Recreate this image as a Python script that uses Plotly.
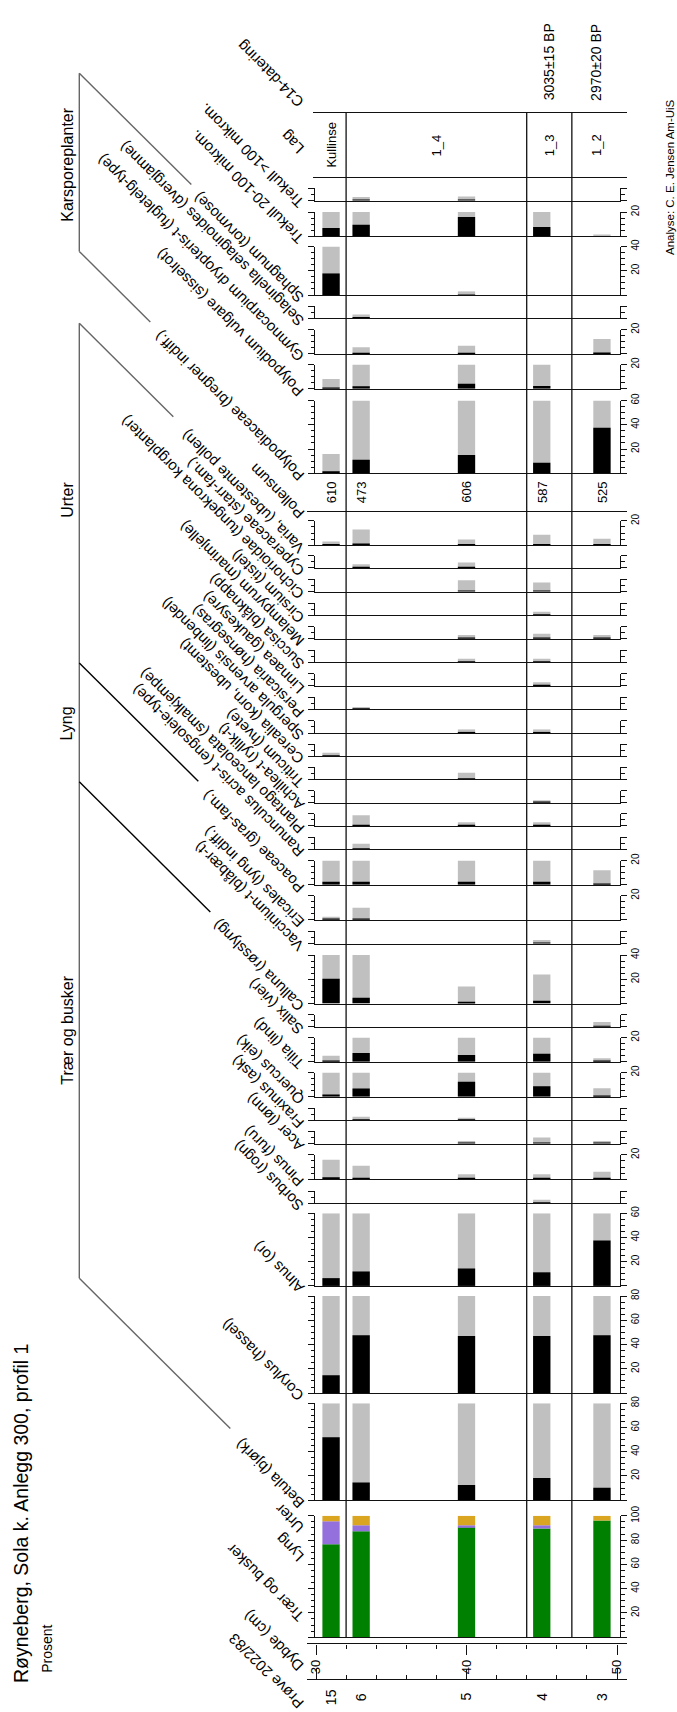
import plotly.graph_objects as go

# ---------------- data ----------------
SAMPLES = ["15", "6", "5", "4", "3"]
DEPTH_CM = [31, 33, 40, 45, 49]
POLLENSUM = [610, 473, 606, 587, 525]

LAYERS = ["Kullinse", "1_4", "1_3", "1_2"]
LAYER_BOUNDS = [32, 44, 47]
C14_DATES = ["", "", "3035±15 BP", "2970±20 BP"]

DEPTH_TICKS = [30, 40, 50]
DEPTH_MINOR = [32, 34, 36, 38, 42, 44, 46, 48]

# summary diagram (%)
TREES_SHRUBS = [76.5, 87.4, 90.7, 89.6, 96.2]
HEATH = [19.1, 4.9, 1.6, 2.7, 0.0]
HERBS = [4.4, 7.7, 7.7, 7.7, 3.8]

# pollen / spore / charcoal percentages per sample (15, 6, 5, 4, 3)
betula = [52.0, 14.6, 12.6, 18.4, 10.4]
corylus = [14.7, 47.7, 47.1, 47.1, 47.7]
alnus = [6.4, 11.9, 14.4, 11.2, 37.5]
sorbus = [0, 0, 0, 0.3, 0]
pinus = [1.6, 1.1, 0.4, 0.4, 0.6]
acer = [0, 0, 0.2, 0.5, 0.2]
fraxinus = [0, 0.3, 0.2, 0, 0]
quercus = [2.0, 6.9, 12.5, 8.8, 0.7]
tilia = [0.5, 7.2, 5.6, 6.6, 0.3]
salix = [0, 0, 0, 0, 0.4]
calluna = [20.4, 4.7, 1.4, 2.4, 0]
vaccinium = [0, 0, 0, 0.3, 0]
ericales = [0.25, 1.0, 0, 0, 0]
poaceae = [2.5, 2.5, 2.5, 2.5, 1.2]
ranunculus = [0, 0.47, 0, 0, 0]
plantago = [0, 0.88, 0.3, 0.3, 0]
achillea = [0, 0, 0, 0.2, 0]
triticum = [0, 0, 0.56, 0, 0]
cerealia = [0.3, 0, 0, 0, 0]
spergula = [0, 0, 0.3, 0.3, 0]
persicaria = [0, 0.2, 0, 0, 0]
linnaea = [0, 0, 0, 0.3, 0]
succisa = [0, 0, 0.3, 0.3, 0]
melampyrum = [0, 0, 0.3, 0.4, 0.3]
cirsium = [0, 0, 0, 0.3, 0]
cichorioidae = [0, 0, 0.94, 0.75, 0]
cyperaceae = [0, 0.3, 0.44, 0, 0]
varia = [0.3, 1.3, 0.47, 0.85, 0.53]
polypodiaceae = [1.6, 11.2, 15.1, 8.7, 37.5]
polypodium = [0.8, 2.0, 4.1, 2.2, 0]
gymnocarpium = [0, 0.55, 0.68, 0, 1.23]
selaginella = [0, 0.3, 0, 0, 0]
sphagnum = [17.8, 0, 0.3, 0, 0]
trekull_20_100 = [6.8, 9.6, 16.0, 7.7, 0.15]
trekull_100 = [0, 0.3, 0.33, 0, 0]

EXAGGERATION = 10

POLLEN_TAXA = [
    ("Betula (bjørk)", betula),
    ("Corylus (hassel)", corylus),
    ("Alnus (or)", alnus),
    ("Sorbus (rogn)", sorbus),
    ("Pinus (furu)", pinus),
    ("Acer (lønn)", acer),
    ("Fraxinus (ask)", fraxinus),
    ("Quercus (eik)", quercus),
    ("Tilia (lind)", tilia),
    ("Salix (vier)", salix),
    ("Calluna (røsslyng)", calluna),
    ("Vaccinium-t (blåbær-t)", vaccinium),
    ("Ericales (lyng indiff.)", ericales),
    ("Poaceae (gras-fam.)", poaceae),
    ("Ranunculus acris-t (engsoleie-type)", ranunculus),
    ("Plantago lanceolata (smalkjempe)", plantago),
    ("Achillea-t (ryllik-t)", achillea),
    ("Triticum (hvete)", triticum),
    ("Cerealia (korn, ubestemt)", cerealia),
    ("Spergula arvensis (linbendel)", spergula),
    ("Persicaria (hønsegras)", persicaria),
    ("Linnaea (gaukesyre)", linnaea),
    ("Succisa (blåknapp)", succisa),
    ("Melampyrum (marimjelle)", melampyrum),
    ("Cirsium (tistel)", cirsium),
    ("Cichorioidae (tungekrona korgplanter)", cichorioidae),
    ("Cyperaceae (starr-fam.)", cyperaceae),
    ("Varia, (ubestemte pollen)", varia),
]
SPORE_TAXA = [
    ("Polypodiaceae (bregner indiff.)", polypodiaceae),
    ("Polypodium vulgare (sisselrot)", polypodium),
    ("Gymnocarpium dryopteris-t (fugletelg-type)", gymnocarpium),
    ("Selaginella selaginoides (dvergjamne)", selaginella),
    ("Sphagnum (torvmose)", sphagnum),
    ("Trekull 20-100 mikrom.", trekull_20_100),
    ("Trekull >100 mikrom.", trekull_100),
]

# ---------------- layout geometry ----------------
W, H = 677, 1712
FONT = "Liberation Sans, Arial, Helvetica, sans-serif"
INK = "#111111"
GREY = "#c0c0c0"
GREEN, PURPLE, GOLD = "#008000", "#9370db", "#daa520"

PX_PER_PCT = 1.22          # vertical pixels per percent
X30, PX_PER_CM = 316.0, 15.05
PANEL_L, PANEL_R = 315.0, 620.0
FRAME_L, FRAME_R = 306.7, 626.7
BAR_W = 1.15               # bar width in cm
LABEL_X = 310.0

SUMMARY_BASE = 1636.7
POLLEN_GEOM = [  # (baseline px, axis max %)
    (1499.0, 80), (1391.2, 80), (1283.4, 60), (1200.3, 10), (1176.0, 20),
    (1140.2, 10), (1116.8, 10), (1093.2, 20), (1058.0, 20), (1022.8, 10),
    (999.4, 40), (939.0, 10), (915.2, 20), (880.0, 20), (844.4, 10),
    (820.7, 10), (797.4, 10), (774.0, 10), (750.7, 10), (727.3, 10),
    (703.6, 10), (679.9, 10), (656.1, 10), (632.4, 10), (609.0, 10),
    (585.0, 10), (561.2, 10), (538.3, 20),
]
POLLENSUM_BASE = 503.8
SPORE_GEOM = [
    (466.0, 60), (381.0, 20), (346.0, 20), (310.0, 10), (286.7, 40),
    (227.7, 20), (191.7, 10),
]
LAG_TOP, LAG_BOT = 103.3, 168.3


def depth_at(px):
    return 30 + (px - X30) / PX_PER_CM


def fx(px):
    return px / W


def fy(px):
    return 1 - px / H


lay = dict(
    width=W, height=H, autosize=False,
    margin=dict(l=0, r=0, t=0, b=0, pad=0),
    paper_bgcolor="white", plot_bgcolor="rgba(0,0,0,0)",
    barmode="overlay", showlegend=False,
    font=dict(family=FONT, color="#000"),
)
annotations = []
shapes = []
fig = go.Figure()
_count = [0]


def add_axes(x_lo, x_hi, y_bot, y_top, xopts, yopts):
    _count[0] += 1
    s = "" if _count[0] == 1 else str(_count[0])
    xa = dict(domain=[fx(x_lo), fx(x_hi)], range=[depth_at(x_lo), depth_at(x_hi)],
              anchor="y" + s, showgrid=False, zeroline=False, fixedrange=True)
    xa.update(xopts)
    ya = dict(domain=[fy(y_bot), fy(y_top)], anchor="x" + s,
              showgrid=False, zeroline=False, fixedrange=True)
    ya.update(yopts)
    lay["xaxis" + s] = xa
    lay["yaxis" + s] = ya
    return "x" + s, "y" + s


def hold_axes(xa, ya):
    # invisible placeholder so the helper subplot is always built
    fig.add_trace(go.Scatter(x=DEPTH_CM, y=[0.5] * len(DEPTH_CM), mode="markers",
                             marker=dict(opacity=0), xaxis=xa, yaxis=ya,
                             hoverinfo="skip", showlegend=False))


def percent_panel(base, amax):
    major = list(range(0, amax + 1, 20)) if amax >= 20 else [0, amax]
    minor = [v for v in range(5, amax + 1, 5) if v not in major]
    labels = ["" if (v == 0 or amax < 20) else str(v) for v in major]
    xopts = dict(showline=True, linecolor=INK, linewidth=1.2, ticks="",
                 showticklabels=False)
    yopts = dict(range=[0, amax], side="right", showline=True, linecolor=INK,
                 linewidth=1, mirror="ticks", ticks="outside", ticklen=6,
                 tickwidth=1, tickcolor=INK, tickmode="array", tickvals=major,
                 ticktext=labels,
                 tickangle=-90, tickfont=dict(size=10, family=FONT, color="#000"),
                 minor=dict(tickmode="array", tickvals=minor, ticks="outside",
                            ticklen=3.5, tickwidth=1, tickcolor=INK))
    return add_axes(PANEL_L, PANEL_R, base, base - amax * PX_PER_PCT, xopts, yopts)


def slanted_label(text, y_px, size=15):
    annotations.append(dict(
        x=fx(LABEL_X), y=fy(y_px + 14), xref="paper", yref="paper",
        text=text, showarrow=False, textangle=-135,
        xanchor="right", yanchor="bottom",
        font=dict(family=FONT, size=size, color="#000")))


def upright_text(text, x, y_px, size, xref="paper", yanchor="middle"):
    annotations.append(dict(
        x=x, y=fy(y_px), xref=xref, yref="paper", text=text,
        showarrow=False, textangle=-90, xanchor="center", yanchor=yanchor,
        font=dict(family=FONT, size=size, color="#000")))


def bar(xa, ya, values, color, base=None):
    fig.add_trace(go.Bar(
        x=DEPTH_CM, y=values, base=base, width=BAR_W,
        marker=dict(color=color, line=dict(width=0)),
        xaxis=xa, yaxis=ya, hoverinfo="skip", showlegend=False))


def taxon_panel(label, values, base, amax):
    xa, ya = percent_panel(base, amax)
    exaggerated = [min(v * EXAGGERATION, amax) if v > 0 else None for v in values]
    bar(xa, ya, exaggerated, GREY)
    bar(xa, ya, [v if v > 0 else None for v in values], "#000000")
    slanted_label(label, base)


# summary diagram
xs, ys = percent_panel(SUMMARY_BASE, 100)
bar(xs, ys, TREES_SHRUBS, GREEN)
bar(xs, ys, [v if v > 0 else None for v in HEATH], PURPLE, base=TREES_SHRUBS)
bar(xs, ys, HERBS, GOLD, base=[a + b for a, b in zip(TREES_SHRUBS, HEATH)])
slanted_label("Trær og busker", 1613)
slanted_label("Lyng", 1553)
slanted_label("Urter", 1524)

for (label, vals), (base, amax) in zip(POLLEN_TAXA, POLLEN_GEOM):
    taxon_panel(label, vals, base, amax)

# pollen sum row
xp, yp = add_axes(FRAME_L, FRAME_R, POLLENSUM_BASE, POLLENSUM_BASE - 26,
                  dict(showline=True, linecolor=INK, linewidth=1.2, ticks="",
                       showticklabels=False),
                  dict(visible=False, range=[0, 1]))
hold_axes(xp, yp)
for d, n in zip(DEPTH_CM, POLLENSUM):
    upright_text(str(n), d, 485, 13, xref=xp)
slanted_label("Pollensum", POLLENSUM_BASE)

for (label, vals), (base, amax) in zip(SPORE_TAXA, SPORE_GEOM):
    taxon_panel(label, vals, base, amax)

# layer column
xl, yl = add_axes(313.0, FRAME_R, LAG_BOT, LAG_TOP,
                  dict(showline=True, mirror=True, linecolor=INK, linewidth=1.2,
                       ticks="", showticklabels=False),
                  dict(visible=False, range=[0, 1]))
hold_axes(xl, yl)
edges = [depth_at(PANEL_L)] + LAYER_BOUNDS + [depth_at(PANEL_R)]
for i, name in enumerate(LAYERS):
    mid = (edges[i] + edges[i + 1]) / 2
    upright_text(name, mid, (LAG_TOP + LAG_BOT) / 2, 13, xref=xl)
    if C14_DATES[i]:
        upright_text(C14_DATES[i], mid, 93, 14, xref=xl, yanchor="bottom")
slanted_label("Lag", 137)
slanted_label("C14-datering", 90)

for b in LAYER_BOUNDS:
    shapes.append(dict(type="line", xref=xs, yref="paper", x0=b, x1=b,
                       y0=fy(SUMMARY_BASE), y1=fy(LAG_TOP),
                       line=dict(color=INK, width=1.3)))

# depth column (upper scale with labels, lower scale with sample numbers)
minor_depth = dict(tickmode="array", tickvals=DEPTH_MINOR, ticks="outside",
                   ticklen=4, tickwidth=1, tickcolor=INK)
xd, yd = add_axes(FRAME_L, FRAME_R, 1643, 1641,
                  dict(showline=True, linecolor=INK, linewidth=1.2, side="bottom",
                       ticks="outside", ticklen=10, tickwidth=1, tickcolor=INK,
                       tickmode="array", tickvals=DEPTH_TICKS,
                       ticktext=[str(t) for t in DEPTH_TICKS], tickangle=-90,
                       tickfont=dict(size=13, family=FONT, color="#000"),
                       minor=minor_depth),
                  dict(visible=False, range=[0, 1]))
hold_axes(xd, yd)
xq, yq = add_axes(FRAME_L, FRAME_R, 1700, 1680,
                  dict(showline=True, linecolor=INK, linewidth=1.2, side="top",
                       ticks="outside", ticklen=10, tickwidth=1, tickcolor=INK,
                       tickmode="array", tickvals=DEPTH_TICKS, showticklabels=False,
                       minor=minor_depth),
                  dict(visible=False, range=[0, 1]))
hold_axes(xq, yq)
for d, s in zip(DEPTH_CM, SAMPLES):
    upright_text(s, d, 1697, 14, xref=xq)
slanted_label("Dybde (cm)", 1663)
slanted_label("Prøve 2022/83", 1701)

# group brackets
BR_X = 79.3
SHIFT = 305 - BR_X


def bracket_point(base):
    return base + 2.5 - SHIFT


def seg(x0, y0, x1, y1, color):
    shapes.append(dict(type="line", xref="paper", yref="paper",
                       x0=fx(x0), y0=fy(y0), x1=fx(x1), y1=fy(y1),
                       line=dict(color=color, width=1.4)))


BRACKET = "#666666"
k_top, k_bot = bracket_point(SPORE_GEOM[4][0]), bracket_point(SPORE_GEOM[0][0])
seg(BR_X, k_top, BR_X, k_bot, BRACKET)
seg(BR_X, k_top, BR_X + 112, k_top + 112, BRACKET)
seg(BR_X, k_bot, BR_X + 71, k_bot + 71, BRACKET)

u_top = bracket_point(POLLEN_GEOM[27][0])
l_top = bracket_point(POLLEN_GEOM[13][0])
l_bot = bracket_point(POLLEN_GEOM[10][0])
t_bot = bracket_point(POLLEN_GEOM[0][0])
seg(BR_X, u_top, BR_X, t_bot, BRACKET)
seg(BR_X, u_top, BR_X + 94, u_top + 94, BRACKET)
seg(BR_X, l_top, BR_X + 119, l_top + 119, "#000000")
seg(BR_X, l_bot, BR_X + 131, l_bot + 131, "#000000")
seg(BR_X, t_bot, BR_X + 151, t_bot + 151, BRACKET)

for text, yc in [("Karsporeplanter", 155), ("Urter", 493), ("Lyng", 718),
                 ("Trær og busker", 1026)]:
    upright_text(text, fx(66.7), yc, 16)

# titles and credits
upright_text("Røyneberg, Sola k. Anlegg 300, profil 1", fx(20.8), 1512, 19.5)
upright_text("Prosent", fx(47.5), 1648, 14)
upright_text("Analyse: C. E. Jensen Am-UiS", fx(670), 168, 11.5)

lay["annotations"] = annotations
lay["shapes"] = shapes
fig.update_layout(**lay)
fig.write_html("out.html")
